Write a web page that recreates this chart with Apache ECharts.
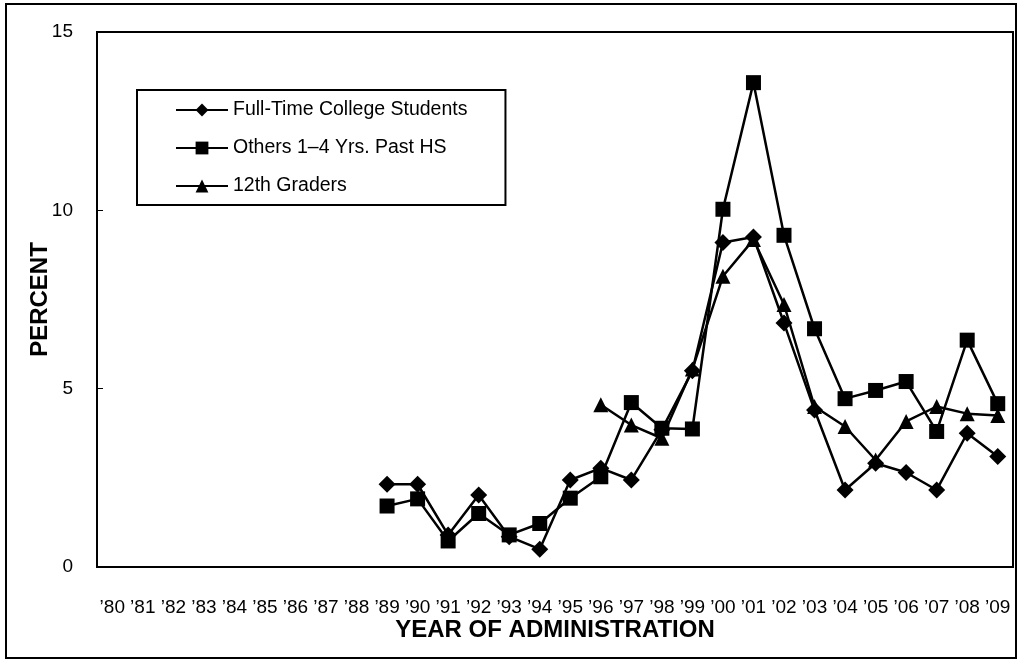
<!DOCTYPE html>
<html>
<head>
<meta charset="utf-8">
<script src="https://cdn.jsdelivr.net/npm/echarts@6/dist/echarts.min.js"></script>
<style>html,body{margin:0;padding:0;background:#fff;}#c{width:1021px;height:661px;}</style>
</head>
<body>
<div id="c"></div>
<script>
const years = ["\u201980","\u201981","\u201982","\u201983","\u201984","\u201985","\u201986","\u201987","\u201988","\u201989","\u201990","\u201991","\u201992","\u201993","\u201994","\u201995","\u201996","\u201997","\u201998","\u201999","\u201900","\u201901","\u201902","\u201903","\u201904","\u201905","\u201906","\u201907","\u201908","\u201909"];
const fullTimeCollege = [null,null,null,null,null,null,null,null,null,2.32,2.32,0.9,2.02,0.85,0.5,2.44,2.77,2.44,3.85,5.5,9.1,9.25,6.84,4.4,2.16,2.91,2.65,2.16,3.75,3.1];
const othersPastHS = [null,null,null,null,null,null,null,null,null,1.71,1.91,0.73,1.5,0.9,1.22,1.93,2.53,4.61,3.89,3.87,10.03,13.58,9.3,6.68,4.72,4.95,5.2,3.8,6.36,4.58];
const graders12 = [null,null,null,null,null,null,null,null,null,null,null,null,null,null,null,null,4.55,3.98,3.61,5.55,8.15,9.18,7.36,4.5,3.94,3.0,4.08,4.5,4.3,4.25];
const seriesNames = ["Full-Time College Students","Others 1\u20134 Yrs. Past HS","12th Graders"];
const yTicks = [0,5,10,15];

const font = "'Liberation Sans', Arial, sans-serif";
const chart = echarts.init(document.getElementById('c'), null, {renderer:'canvas'});
function mk(name, data, symbol, size){
  return {name, type:'line', data, symbol, symbolSize:size, showSymbol:true,
    connectNulls:false, lineStyle:{color:'#000', width:2.5}, itemStyle:{color:'#000'},
    emphasis:{disabled:true}, animation:false};
}
chart.setOption({
  animation:false,
  graphic:[{type:'rect', shape:{x:6,y:4,width:1010,height:654}, style:{fill:'none', stroke:'#000', lineWidth:2}, z:100}],
  grid:{left:97, top:32, right:8, bottom:94, show:true, borderColor:'#000', borderWidth:2},
  legend:{
    orient:'vertical', left:137, top:90,
    data:seriesNames,
    itemWidth:52, itemHeight:16, itemGap:16,
    padding:[9,38,8,38],
    borderColor:'#000', borderWidth:2,
    textStyle:{fontFamily:font, fontSize:19.5, color:'#000', lineHeight:22},
    selectedMode:false
  },
  xAxis:{
    type:'category', data:years, boundaryGap:true,
    name:'YEAR OF ADMINISTRATION', nameLocation:'middle', nameGap:51, nameMoveOverlap:false,
    nameTextStyle:{fontFamily:font, fontSize:24, fontWeight:'bold', color:'#000'},
    axisLine:{lineStyle:{color:'#000', width:2}},
    axisTick:{inside:true, length:6, lineStyle:{color:'#000', width:1}},
    axisLabel:{fontFamily:font, fontSize:19, color:'#000', margin:31, interval:0},
    splitLine:{show:false}
  },
  yAxis:{
    type:'value', min:0, max:15, interval:5,
    name:'PERCENT', nameLocation:'middle', nameGap:45, nameRotate:90, nameMoveOverlap:false,
    nameTextStyle:{fontFamily:font, fontSize:24, fontWeight:'bold', color:'#000'},
    axisLine:{show:true, lineStyle:{color:'#000', width:2}},
    axisTick:{show:true, inside:true, length:6, lineStyle:{color:'#000', width:1}},
    axisLabel:{fontFamily:font, fontSize:19, color:'#000', margin:24,
      formatter:v => yTicks.includes(v) ? String(v) : ''},
    splitLine:{show:false}
  },
  series:[
    mk(seriesNames[0], fullTimeCollege, 'diamond', 17),
    mk(seriesNames[1], othersPastHS, 'rect', 15),
    mk(seriesNames[2], graders12, 'triangle', 15)
  ]
});
</script>
</body>
</html>
